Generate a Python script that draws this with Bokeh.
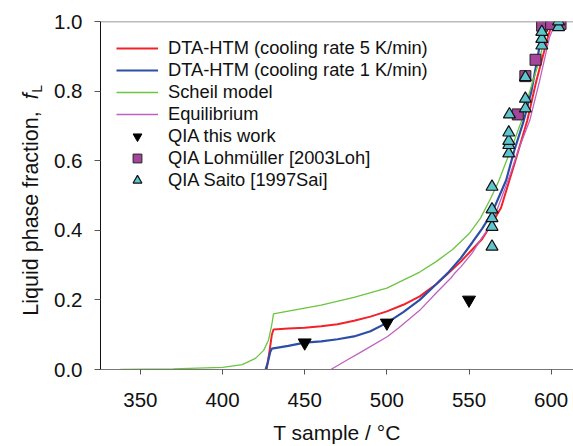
import math
from bokeh.plotting import figure
from bokeh.layouts import row
from bokeh.core.properties import value
from bokeh.models import Range1d, Legend, LegendItem, Span, FixedTicker, PrintfTickFormatter
from bokeh.embed import file_html
from bokeh.resources import INLINE

# ---------------- data ----------------
red_T = [426.8, 428.5, 430.0, 431.0, 440, 450, 460, 470, 480, 490, 500, 510, 520, 530, 537, 545, 552,
         558, 564, 569.5, 574.6, 577.6, 585.5, 591, 598, 601]
red_f = [0.0, 0.05, 0.10, 0.115, 0.118, 0.12, 0.124, 0.13, 0.14, 0.152, 0.167, 0.186, 0.21, 0.245, 0.275,
         0.31, 0.345, 0.375, 0.42, 0.465, 0.544, 0.59, 0.716, 0.83, 0.955, 1.0]

blue_T = [426.2, 427.5, 429.0, 430.0, 440, 450, 460, 470, 480, 490, 500, 510, 520, 530, 537, 545, 552,
          558, 564, 569.5, 572.6, 577.6, 583, 588, 593, 595]
blue_f = [0.0, 0.02, 0.05, 0.06, 0.068, 0.077, 0.081, 0.087, 0.095, 0.11, 0.134, 0.165, 0.2, 0.245, 0.277,
          0.32, 0.365, 0.405, 0.45, 0.51, 0.544, 0.63, 0.71, 0.8, 0.93, 1.0]

green_T = [337.8, 370, 400, 412, 420, 425, 428, 430, 431, 440, 460, 480, 500, 520, 530, 540, 550, 557,
           563, 568, 572, 577, 582, 587, 592, 596, 599]
green_f = [0.0, 0.002, 0.006, 0.014, 0.032, 0.055, 0.085, 0.13, 0.16, 0.168, 0.185, 0.207, 0.234, 0.28,
           0.31, 0.345, 0.39, 0.435, 0.49, 0.54, 0.59, 0.65, 0.715, 0.8, 0.875, 0.95, 1.0]

pink_T = [465.9, 475, 485, 500.4, 507.3, 520, 530, 539, 541, 545, 552, 558, 564, 569.5, 575, 580, 587,
          593, 599, 603]
pink_f = [0.0, 0.025, 0.052, 0.095, 0.12, 0.17, 0.22, 0.263, 0.275, 0.295, 0.335, 0.38, 0.42, 0.49, 0.56,
          0.63, 0.716, 0.83, 0.955, 1.0]

qia_T = [450, 500, 550]
qia_f = [0.077, 0.134, 0.2]

loh_T = [579.7, 584.3, 590.5, 594.5, 600.0, 605.7]
loh_f = [0.733, 0.843, 0.89, 0.988, 0.993, 0.993]

saito_T = [564, 564, 564, 564, 564, 574.2, 574.2, 574.2, 574.2, 574.6, 584.3, 584.3, 584.3,
           594.3, 594.3, 594.3, 604.5, 604.5]
saito_f = [0.353, 0.41, 0.435, 0.46, 0.525, 0.621, 0.645, 0.657, 0.681, 0.733, 0.75, 0.778, 0.84,
           0.931, 0.95, 0.97, 0.984, 1.0]

x_ticks = [350, 400, 450, 500, 550, 600]
y_ticks = [0.0, 0.2, 0.4, 0.6, 0.8, 1.0]

labels = ["DTA-HTM (cooling rate 5 K/min)", "DTA-HTM (cooling rate 1 K/min)", "Scheil model",
          "Equilibrium", "QIA this work", "QIA Lohmüller [2003Loh]", "QIA Saito [1997Sai]"]
x_title = "T sample / °C"
y_title_parts = ["Liquid phase fraction,", "f", "L"]

FONT = "Liberation Sans"

# ---------------- narrow strip holding the y-axis title ----------------
# its frame is aligned with the main frame by the row layout (page y 21..370);
# the strip's y coordinate is "page pixels from the bottom of the page" (446 - y)
lab = figure(width=46, height=446, x_range=Range1d(0, 46), y_range=Range1d(76, 425),
             output_backend="svg", toolbar_location=None,
             x_axis_location=None, y_axis_location=None,
             min_border_left=0, min_border_right=0, min_border_top=0, min_border_bottom=0)
lab.outline_line_color = None
lab.grid.visible = False
lab.background_fill_color = "white"
lab.border_fill_color = "white"
lab.text(x=[30.6], y=[232.5], text=[y_title_parts[0]], angle=math.pi / 2,
         text_font=value(FONT), text_font_size=value("21.5px"), text_align="center",
         text_baseline="middle", text_color="#111111")
lab.text(x=[30.6], y=[350], text=[y_title_parts[1]], angle=math.pi / 2,
         text_font=value(FONT), text_font_size=value("21.5px"), text_font_style="italic",
         text_align="center", text_baseline="middle", text_color="#111111")
lab.text(x=[36.5], y=[357.5], text=[y_title_parts[2]], angle=math.pi / 2,
         text_font=value(FONT), text_font_size=value("14px"), text_align="center",
         text_baseline="middle", text_color="#111111")

# ---------------- main chart ----------------
p = figure(width=527, height=446, x_range=Range1d(325.7, 613.6), y_range=Range1d(0, 1),
           output_backend="svg", toolbar_location=None,
           min_border_left=54, min_border_right=0, min_border_top=21, min_border_bottom=76)
p.outline_line_color = None
p.xgrid.visible = False
p.ygrid.visible = False
p.background_fill_color = "white"
p.border_fill_color = "white"

p.xaxis.ticker = FixedTicker(ticks=x_ticks)
p.yaxis.ticker = FixedTicker(ticks=y_ticks)
p.yaxis.formatter = PrintfTickFormatter(format="%.1f")
for ax in (p.xaxis[0], p.yaxis[0]):
    ax.major_label_text_font = FONT
    ax.major_label_text_font_size = "20.5px"
    ax.major_label_text_color = "#111111"
    ax.minor_tick_line_color = None
    ax.major_tick_in = 0
    ax.major_tick_line_color = "#555555"
p.xaxis.major_tick_out = 5
p.yaxis.major_tick_out = 6
p.xaxis.axis_line_color = "#777777"
p.yaxis.axis_line_color = "#111111"
p.xaxis.major_label_standoff = 18
p.yaxis.major_label_standoff = 12
p.xaxis.axis_label = x_title
p.xaxis.axis_label_text_font = FONT
p.xaxis.axis_label_text_font_size = "21px"
p.xaxis.axis_label_text_font_style = "normal"
p.xaxis.axis_label_text_color = "#111111"
p.xaxis.axis_label_standoff = 11

# top frame line
p.add_layout(Span(location=1.0, dimension="width", line_color="#777777", line_width=1.5))

# curves
r_red = p.line(red_T, red_f, line_color="#f2222a", line_width=2)
r_blue = p.line(blue_T, blue_f, line_color="#2d4ea6", line_width=2.2)
r_green = p.line(green_T, green_f, line_color="#6cc440", line_width=1.3)
r_pink = p.line(pink_T, pink_f, line_color="#c060c0", line_width=1.3)

# markers
r_qia = p.scatter(qia_T, qia_f, marker="inverted_triangle", size=13, fill_color="black", line_color="black")
r_loh = p.scatter(loh_T, loh_f, marker="square", size=11, fill_color="#a5469c", line_color="#222222", line_width=1)
r_sai = p.scatter(saito_T, saito_f, marker="triangle", size=12, fill_color="#5ec4ce", line_color="#111111", line_width=1.2)

legend = Legend(items=[LegendItem(label=labels[0], renderers=[r_red]),
                       LegendItem(label=labels[1], renderers=[r_blue]),
                       LegendItem(label=labels[2], renderers=[r_green]),
                       LegendItem(label=labels[3], renderers=[r_pink]),
                       LegendItem(label=labels[4], renderers=[r_qia]),
                       LegendItem(label=labels[5], renderers=[r_loh]),
                       LegendItem(label=labels[6], renderers=[r_sai])],
                location="top_left", margin=16, padding=0, spacing=0,
                glyph_width=42, glyph_height=22, label_height=22, label_standoff=10,
                label_text_font=FONT, label_text_font_size="18.3px", label_text_color="#111111",
                border_line_color=None, background_fill_alpha=0)
p.add_layout(legend)

layout = row(lab, p, spacing=0)
open("out.html", "w").write(file_html(layout, INLINE))
